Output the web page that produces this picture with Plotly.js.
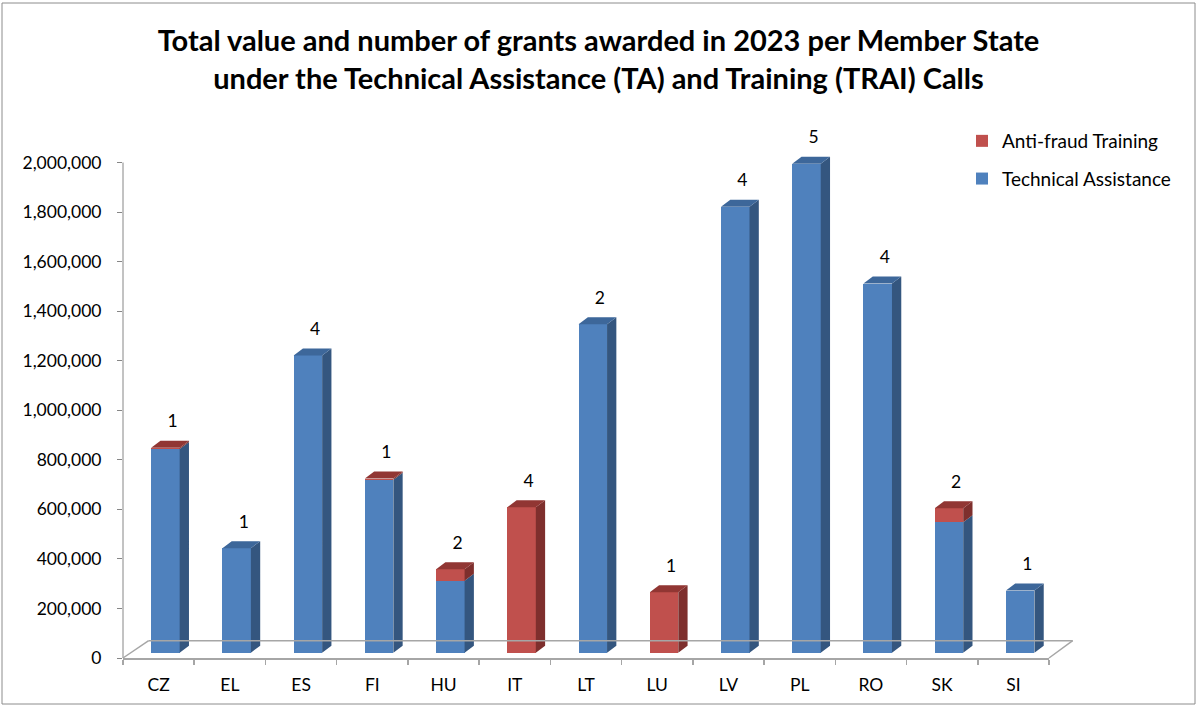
<!DOCTYPE html>
<html>
<head>
<meta charset="utf-8">
<script src="https://cdn.plot.ly/plotly-3.0.1.min.js"></script>
<style>html,body{margin:0;padding:0;background:#fff;}#chart{width:1197px;height:706px;}</style>
</head>
<body>
<div id="chart"></div>
<script>
// ---- data ----
const categories = ['CZ','EL','ES','FI','HU','IT','LT','LU','LV','PL','RO','SK','SI'];
const technicalAssistance = [822000, 422000, 1200000, 698000, 290000, 0, 1326000, 0, 1800000, 1974000, 1490000, 527000, 251000];
const antiFraudTraining   = [5000, 0, 0, 5000, 47000, 587000, 0, 244000, 0, 0, 0, 56000, 0];
const grantCounts         = [1, 1, 4, 1, 2, 4, 2, 1, 4, 5, 4, 2, 1];
const yTickValues = [0,200000,400000,600000,800000,1000000,1200000,1400000,1600000,1800000,2000000];

// ---- style / geometry ----
const W = 1197, H = 706;
const M = {l:123, r:148, t:113, b:48};
const PW = W - M.l - M.r, PH = H - M.t - M.b;
const Y_MAX = 2200000;
const UNIT_PER_PX_Y = Y_MAX / PH;
const UNIT_PER_PX_X = 13 / PW;
const BASE_LIFT = 5.3 * UNIT_PER_PX_Y;      // bars sit slightly behind front floor edge
const BAR_SHIFT = 6.8 * UNIT_PER_PX_X;
const BAR_W = 28.5 * UNIT_PER_PX_X;
const DX = 9.3 * UNIT_PER_PX_X;
const DY = 7 * UNIT_PER_PX_Y;
const FONT = 'Lato, "Open Sans", sans-serif';

const COL = {
  blue:{front:'#4F81BD', side:'#34567F', top:'#3D679A'},
  red:{front:'#C0504D', side:'#7E2F2D', top:'#913633'}
};

const xs = categories.map((_, i) => i + BAR_SHIFT);

// 3D side and top faces derived from values
const faces = {blueSide:{x:[],y:[]}, redSide:{x:[],y:[]}, blueTop:{x:[],y:[]}, redTop:{x:[],y:[]}};
function poly(f, pts){ pts.forEach(p => {f.x.push(p[0]); f.y.push(p[1]);}); f.x.push(pts[0][0]); f.y.push(pts[0][1]); f.x.push(null); f.y.push(null); }
categories.forEach((c, i) => {
  const xl = xs[i] - BAR_W/2, xr = xs[i] + BAR_W/2;
  const segs = [
    {y0:0, y1:technicalAssistance[i], k:'blue'},
    {y0:technicalAssistance[i], y1:technicalAssistance[i] + antiFraudTraining[i], k:'red'}
  ].filter(s => s.y1 > s.y0);
  segs.forEach(s => {
    poly(faces[s.k + 'Side'], [[xr, s.y0], [xr+DX, s.y0+DY], [xr+DX, s.y1+DY], [xr, s.y1]]);
  });
  const topSeg = segs[segs.length-1];
  const t = topSeg.y1;
  poly(faces[topSeg.k + 'Top'], [[xl, t], [xr, t], [xr+DX, t+DY], [xl+DX, t+DY]]);
});

const totals = categories.map((_, i) => technicalAssistance[i] + antiFraudTraining[i]);

const traces = [
  {type:'bar', name:'Technical Assistance', x:xs, y:technicalAssistance, width:BAR_W, xaxis:'x', yaxis:'y2',
   marker:{color:COL.blue.front, line:{width:0}}, legendgroup:'ta', legendrank:2, hoverinfo:'skip'},
  {type:'bar', name:'Anti-fraud Training', x:xs, y:antiFraudTraining, width:BAR_W, xaxis:'x', yaxis:'y2',
   marker:{color:COL.red.front, line:{width:0}}, legendgroup:'af', legendrank:1, hoverinfo:'skip'},
];
[['blueSide', COL.blue.side], ['redSide', COL.red.side], ['blueTop', COL.blue.top], ['redTop', COL.red.top]].forEach(([k, col]) => {
  traces.push({type:'scatter', mode:'lines', x:faces[k].x, y:faces[k].y, xaxis:'x', yaxis:'y2',
    fill:'toself', fillcolor:col, line:{width:0, color:col}, showlegend:false, hoverinfo:'skip', connectgaps:false});
});
traces.push({type:'scatter', mode:'markers+text', x:xs.map(v => v + 0.1), y:totals, xaxis:'x', yaxis:'y2',
  text:grantCounts.map(String), textposition:'top center', cliponaxis:false,
  marker:{size:24, opacity:0}, textfont:{family:FONT, size:17.5, color:'#000'}, showlegend:false, hoverinfo:'skip'});
// anchor trace so the visible value axis is part of the subplot
traces.push({type:'scatter', mode:'markers', x:[0], y:[0], xaxis:'x', yaxis:'y', marker:{opacity:0}, showlegend:false, hoverinfo:'skip'});

const px2x = px => (px - M.l) / PW;
const px2y = py => (H - M.b - py) / PH;
const floorGray = '#A6A6A6';
const shapes = [
  {type:'rect', xref:'paper', yref:'paper', x0:px2x(2), x1:px2x(1195), y0:px2y(704), y1:px2y(3), line:{color:'#8C8C8C', width:1}},
  {type:'line', xref:'paper', yref:'paper', x0:0, x1:0, y0:0, y1:2000000/Y_MAX, line:{color:'#868686', width:1}},
  {type:'line', xref:'paper', yref:'paper', x0:px2x(148.7), x1:px2x(1072.7), y0:px2y(640.7), y1:px2y(640.7), line:{color:floorGray, width:1.5}},
  {type:'line', xref:'paper', yref:'paper', x0:0, x1:px2x(148.7), y0:0, y1:px2y(640.7), line:{color:floorGray, width:1.5}},
  {type:'line', xref:'paper', yref:'paper', x0:1, x1:px2x(1072.7), y0:0, y1:px2y(640.7), line:{color:floorGray, width:1.5}},
];

const layout = {
  width:W, height:H, margin:M, paper_bgcolor:'#fff', plot_bgcolor:'rgba(0,0,0,0)',
  barmode:'stack', showlegend:true,
  title:{text:'Total value and number of grants awarded in 2023 per Member State<br>under the Technical Assistance (TA) and Training (TRAI) Calls',
    x:0.5, xanchor:'center', xref:'container', y:1-51/H, yanchor:'top', yref:'container',
    font:{family:FONT, size:29, weight:700, color:'#000'}},
  xaxis:{type:'linear', range:[-0.5, 12.5], tickvals:categories.map((_, i) => i), ticktext:categories,
    ticks:'', showgrid:false, zeroline:false, showline:true, linecolor:floorGray, linewidth:1.5,
    ticklabelstandoff:10, tickfont:{family:FONT, size:17.5, color:'#000'}, fixedrange:true,
    minor:{tickvals:categories.map((_, i) => i - 0.5).concat([12.5]), ticks:'outside', ticklen:5, tickcolor:floorGray, tickwidth:1.5, showgrid:false}},
  yaxis:{range:[0, Y_MAX], tickvals:yTickValues, tickformat:',d', ticks:'outside', ticklen:5, tickcolor:'#868686',
    showgrid:false, zeroline:false, showline:false, ticklabelstandoff:12, tickfont:{family:FONT, size:17.5, color:'#000'}, fixedrange:true},
  yaxis2:{range:[-BASE_LIFT, Y_MAX - BASE_LIFT], overlaying:'y', visible:false, showgrid:false, zeroline:false, fixedrange:true},
  legend:{x:px2x(962), xanchor:'left', y:px2y(122), yanchor:'top', traceorder:'grouped', tracegroupgap:10,
    font:{family:FONT, size:19, color:'#000'}, bgcolor:'rgba(0,0,0,0)', itemclick:false, itemdoubleclick:false},
  shapes:shapes
};

Plotly.newPlot('chart', traces, layout, {displayModeBar:false, staticPlot:true});
</script>
</body>
</html>
